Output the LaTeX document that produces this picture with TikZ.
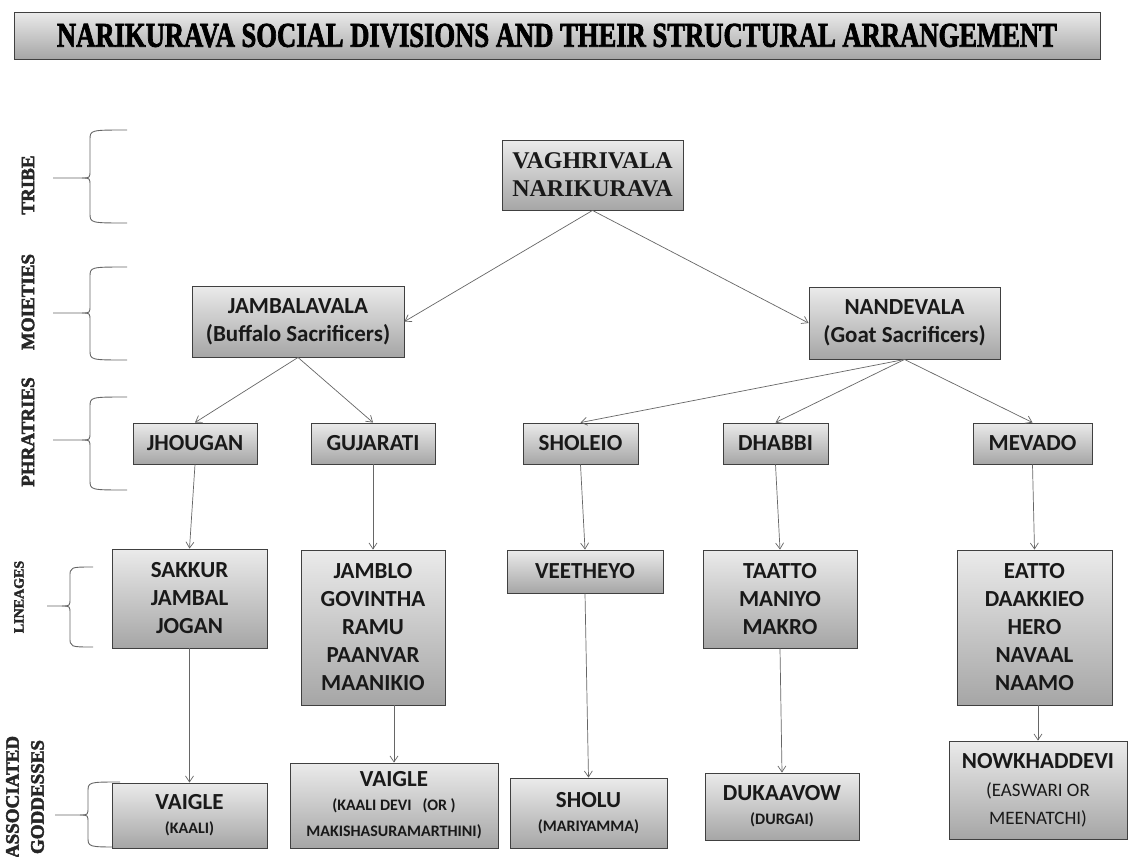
\documentclass[tikz,border=0pt]{standalone}
\usepackage{fontspec}
\setmainfont{Carlito}
\newfontfamily\serifb{Liberation Serif}
\newfontfamily\heavyserif{Liberation Serif}[BoldFeatures={FakeBold=2.5}]
\usetikzlibrary{arrows.meta}
\newcommand\subt{\fontsize{16}{22}\selectfont\bfseries}
\newcommand\drawbrace[6]{%
 \draw[brc] (#6,#2) .. controls (#1,#2) .. (#1,#2+10) -- (#1,#4-8) .. controls (#1,#4) .. (#1-8,#4) -- (#5,#4);
 \draw[brc] (#6,#3) .. controls (#1,#3) .. (#1,#3-10) -- (#1,#4+8) .. controls (#1,#4) .. (#1-8,#4);}
\begin{document}
\begin{tikzpicture}[x=1pt,y=-1pt,
  box/.style={draw=black!75, line width=0.9pt, top color=black!8, bottom color=black!35,
    align=center, inner sep=0pt, font=\fontsize{23}{28}\selectfont\bfseries, text=black!90},
  conn/.style={draw=black!60, line width=0.7pt, -{Straight Barb[length=6pt,width=8pt]}},
  brc/.style={draw=black!60, line width=0.9pt},
  lab/.style={rotate=90, font=\heavyserif\bfseries\fontsize{19}{25}\selectfont, text=black!85, align=center}]
\fill[white] (0,0) rectangle (1128,857);
\useasboundingbox (0,0) rectangle (1128,857);
% title
\node[box, text=black, minimum width=1086, minimum height=47] (title) at (557,35.5)
  {\resizebox{1000pt}{23pt}{\heavyserif\bfseries NARIKURAVA SOCIAL DIVISIONS AND THEIR STRUCTURAL ARRANGEMENT}};
% level labels
\node[lab] (ltribe) at (28,185) {TRIBE};
\node[lab] (lmoi) at (28,302) {MOIETIES};
\node[lab] (lphr) at (28,432) {PHRATRIES};
\node[lab, font=\heavyserif\bfseries\fontsize{14}{16}\selectfont] (llin) at (19,597) {LINEAGES};
\node[lab] (lgod) at (25,797) {ASSOCIATED\\GODDESSES};
% braces
\drawbrace{90}{130}{223}{178}{53}{127}
\drawbrace{90}{267}{360}{313}{53}{127}
\drawbrace{90}{397}{490}{440}{53}{127}
\drawbrace{70}{567}{647}{606}{47}{93}
\drawbrace{88}{782}{847}{815}{55}{120}
% nodes
\node[box, font=\serifb\bfseries\fontsize{24}{28}\selectfont, minimum width=181, minimum height=70] (V) at (592.5,175) {VAGHRIVALA\\NARIKURAVA};
\node[box, minimum width=212, minimum height=71] (JAM) at (298,321.5) {JAMBALAVALA\\(Buffalo Sacrificers)};
\node[box, minimum width=191, minimum height=72] (NAN) at (904.5,323) {NANDEVALA\\(Goat Sacrificers)};
\node[box, minimum width=124, minimum height=41] (JH) at (195,443.5) {JHOUGAN};
\node[box, minimum width=124, minimum height=41] (GUJ) at (373,443.5) {GUJARATI};
\node[box, minimum width=115, minimum height=41] (SHO) at (580.5,443.5) {SHOLEIO};
\node[box, minimum width=105, minimum height=41] (DHA) at (775.5,443.5) {DHABBI};
\node[box, minimum width=119, minimum height=41] (MEV) at (1032.5,443.5) {MEVADO};
\node[box, minimum width=155, minimum height=99] (SAK) at (189.5,598.5) {SAKKUR\\JAMBAL\\JOGAN};
\node[box, minimum width=144, minimum height=155] (JMB) at (373,627.5) {JAMBLO\\GOVINTHA\\RAMU\\PAANVAR\\MAANIKIO};
\node[box, minimum width=156, minimum height=43] (VEE) at (585,571.5) {VEETHEYO};
\node[box, minimum width=154, minimum height=98] (TAA) at (780,599) {TAATTO\\MANIYO\\MAKRO};
\node[box, minimum width=155, minimum height=155] (EAT) at (1034.5,627.5) {EATTO\\DAAKKIEO\\HERO\\NAVAAL\\NAAMO};
\node[box, minimum width=155, minimum height=65] (VA1) at (189.5,815.5) {VAIGLE\\[-4pt]{\subt (KAALI)}};
\node[box, minimum width=208, minimum height=85] (VA2) at (394,805.5) {VAIGLE\\[-4pt]{\subt (KAALI DEVI \ \ (OR )}\\[-2pt]{\subt MAKISHASURAMARTHINI)}};
\node[box, minimum width=157, minimum height=70] (SHU) at (588.5,813) {SHOLU\\[-4pt]{\subt (MARIYAMMA)}};
\node[box, minimum width=154, minimum height=67] (DUK) at (782,806.5) {DUKAAVOW\\[-4pt]{\subt (DURGAI)}};
\node[box, minimum width=178, minimum height=98] (NOW) at (1038,790) {NOWKHADDEVI\\{\fontsize{19}{27}\selectfont\mdseries (EASWARI OR}\\{\fontsize{19}{27}\selectfont\mdseries MEENATCHI)}};
% connectors
\draw[conn] (V.south) -- (JAM.east);
\draw[conn] (V.south) -- (NAN.west);
\draw[conn] (JAM.south) -- (JH.north);
\draw[conn] (JAM.south) -- (GUJ.north);
\draw[conn] (NAN.south) -- (SHO.north);
\draw[conn] (NAN.south) -- (DHA.north);
\draw[conn] (NAN.south) -- (MEV.north);
\draw[conn] (JH.south) -- (SAK.north);
\draw[conn] (GUJ.south) -- (JMB.north);
\draw[conn] (SHO.south) -- (VEE.north);
\draw[conn] (DHA.south) -- (TAA.north);
\draw[conn] (MEV.south) -- (EAT.north);
\draw[conn] (SAK.south) -- (VA1.north);
\draw[conn] (JMB.south -| VA2.north) -- (VA2.north);
\draw[conn] (VEE.south) -- (SHU.north);
\draw[conn] (TAA.south) -- (DUK.north);
\draw[conn] (EAT.south -| NOW.north) -- (NOW.north);
\end{tikzpicture}
\end{document}
